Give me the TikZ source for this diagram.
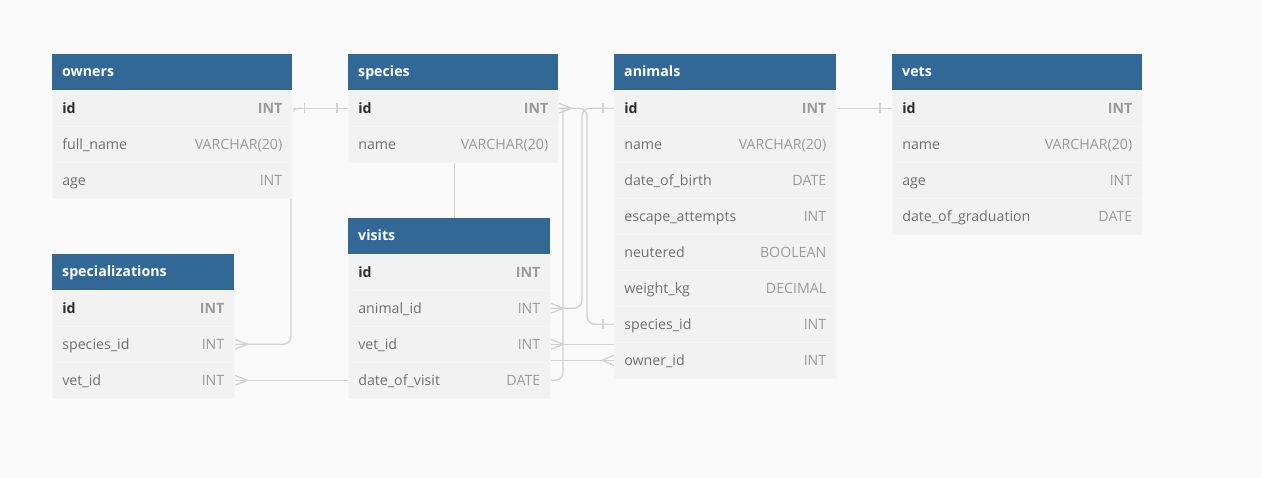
\documentclass[tikz,border=0pt]{standalone}
\usepackage{fontspec}
\setmainfont{Open Sans}
\usetikzlibrary{calc}
\pgfdeclarelayer{bg}
\pgfsetlayers{bg,main}
\definecolor{bgc}{HTML}{FAFAFA}
\definecolor{hdrc}{HTML}{316896}
\definecolor{rowc}{HTML}{F2F2F2}
\definecolor{sepc}{HTML}{F6F6F6}
\definecolor{namec}{HTML}{707070}
\definecolor{pkc}{HTML}{2E2E2E}
\definecolor{typec}{HTML}{9A9A9A}
\definecolor{connc}{HTML}{D2D2D2}
\newcommand\ftype[1]{\hfill\textcolor{typec}{#1}}
\newcommand\pkrow[2]{\textbf{\textcolor{pkc}{#1}}\hfill\textcolor{typec}{\textbf{#2}}}
\tikzset{
  hdr/.style={anchor=north west, fill=hdrc, text=white, font=\bfseries\fontsize{14.2}{16}\selectfont,
    inner xsep=10pt, inner ysep=0pt, minimum height=36pt, align=left, text height=11pt, text depth=2pt},
  erow/.style={anchor=north west, fill=rowc, draw=sepc, line width=0.6pt, inner xsep=10pt, inner ysep=0pt,
    minimum height=36pt, align=left, font=\fontsize{14.2}{16}\selectfont, text height=12pt, text depth=1pt, text=namec},
  conn/.style={draw=connc, line width=1.3pt},
  rconn/.style={conn, rounded corners=8pt},
}
\begin{document}
\begin{tikzpicture}[x=1pt,y=-1pt]
\useasboundingbox (0,0) rectangle (1262,478);

% owners
\node[hdr, text width=220pt] (owners-h) at (52,54) {owners};
\node[erow, text width=220pt] (owners-id) at (52,90) {\pkrow{id}{INT}};
\node[erow, text width=220pt] (owners-fn) at (52,126) {full\_name\ftype{VARCHAR(20)}};
\node[erow, text width=220pt] (owners-age) at (52,162) {age\ftype{INT}};

% species
\node[hdr, text width=190pt] (species-h) at (348,54) {species};
\node[erow, text width=190pt] (species-id) at (348,90) {\pkrow{id}{INT}};
\node[erow, text width=190pt] (species-name) at (348,126) {name\ftype{VARCHAR(20)}};

% animals
\node[hdr, text width=202pt] (animals-h) at (614,54) {animals};
\node[erow, text width=202pt] (animals-id) at (614,90) {\pkrow{id}{INT}};
\node[erow, text width=202pt] (animals-name) at (614,126) {name\ftype{VARCHAR(20)}};
\node[erow, text width=202pt] (animals-dob) at (614,162) {date\_of\_birth\ftype{DATE}};
\node[erow, text width=202pt] (animals-esc) at (614,198) {escape\_attempts\ftype{INT}};
\node[erow, text width=202pt] (animals-neu) at (614,234) {neutered\ftype{BOOLEAN}};
\node[erow, text width=202pt] (animals-wkg) at (614,270) {weight\_kg\ftype{DECIMAL}};
\node[erow, text width=202pt] (animals-sid) at (614,306) {species\_id\ftype{INT}};
\node[erow, text width=202pt] (animals-oid) at (614,342) {owner\_id\ftype{INT}};

% vets
\node[hdr, text width=230pt] (vets-h) at (892,54) {vets};
\node[erow, text width=230pt] (vets-id) at (892,90) {\pkrow{id}{INT}};
\node[erow, text width=230pt] (vets-name) at (892,126) {name\ftype{VARCHAR(20)}};
\node[erow, text width=230pt] (vets-age) at (892,162) {age\ftype{INT}};
\node[erow, text width=230pt] (vets-dog) at (892,198) {date\_of\_graduation\ftype{DATE}};

% specializations
\node[hdr, text width=162pt] (specs-h) at (52,254) {specializations};
\node[erow, text width=162pt] (specs-id) at (52,290) {\pkrow{id}{INT}};
\node[erow, text width=162pt] (specs-sid) at (52,326) {species\_id\ftype{INT}};
\node[erow, text width=162pt] (specs-vid) at (52,362) {vet\_id\ftype{INT}};

% visits
\node[hdr, text width=182pt] (visits-h) at (348,218) {visits};
\node[erow, text width=182pt] (visits-id) at (348,254) {\pkrow{id}{INT}};
\node[erow, text width=182pt] (visits-aid) at (348,290) {animal\_id\ftype{INT}};
\node[erow, text width=182pt] (visits-vid) at (348,326) {vet\_id\ftype{INT}};
\node[erow, text width=182pt] (visits-dov) at (348,362) {date\_of\_visit\ftype{DATE}};

\begin{pgfonlayer}{bg}
\fill[bgc] (0,0) rectangle (1262,478);
\coordinate (xA) at (582,0);
\coordinate (xB) at (587,0);
\coordinate (xC) at (563,0);
\coordinate (xI) at (291,0);

% owners.id -- species.id (one to one)
\draw[conn] (owners-id.east) -- (species-id.west);
\draw[conn] ([xshift=12pt,yshift=5pt]owners-id.east) -- ([xshift=12pt,yshift=-5pt]owners-id.east);
\draw[conn] ([xshift=-11pt,yshift=5pt]species-id.west) -- ([xshift=-11pt,yshift=-5pt]species-id.west);

% specializations.species_id -- owners.id
\draw[rconn] (specs-sid.east) -| (xI |- owners-id.east) -- ([xshift=10pt]owners-id.east);
\draw[conn] ([yshift=5pt]specs-sid.east) -- ([xshift=13pt]specs-sid.east) -- ([yshift=-5pt]specs-sid.east);

% specializations.vet_id -- visits.date_of_visit
\draw[conn] (specs-vid.east) -- (visits-dov.west);
\draw[conn] ([yshift=5pt]specs-vid.east) -- ([xshift=13pt]specs-vid.east) -- ([yshift=-5pt]specs-vid.east);

% species.name -- visits
\draw[conn] ([xshift=1pt]species-name.south) -- ([xshift=1pt]species-name.south |- visits-h.north);

% animals.id -- visits.animal_id
\draw[rconn] (animals-id.west) -| (xA |- visits-aid.east) -- (visits-aid.east);
\draw[conn] ([xshift=-11pt,yshift=5pt]animals-id.west) -- ([xshift=-11pt,yshift=-5pt]animals-id.west);
\draw[conn] ([yshift=5pt]visits-aid.east) -- ([xshift=13pt]visits-aid.east) -- ([yshift=-5pt]visits-aid.east);

% species.id -- animals.species_id
\draw[rconn] (species-id.east) -| (xB |- animals-sid.west) -- (animals-sid.west);
\draw[conn] ([yshift=5pt]species-id.east) -- ([xshift=13pt]species-id.east) -- ([yshift=-5pt]species-id.east);
\draw[conn] ([xshift=-11pt,yshift=5pt]animals-sid.west) -- ([xshift=-11pt,yshift=-5pt]animals-sid.west);

% visits.date_of_visit -- (x = 563) -- top line
\draw[rconn] (visits-dov.east) -| (xC |- species-id.east);

% visits.vet_id -- animals (edge)
\draw[conn] (visits-vid.east) -- (animals-oid.west |- visits-vid.east);
\draw[conn] ([yshift=5pt]visits-vid.east) -- ([xshift=13pt]visits-vid.east) -- ([yshift=-5pt]visits-vid.east);

% visits -- animals.owner_id
\draw[conn] (visits-vid.east |- animals-oid.west) -- (animals-oid.west);
\draw[conn] ([yshift=5pt]animals-oid.west) -- ([xshift=-12pt]animals-oid.west) -- ([yshift=-5pt]animals-oid.west);

% animals.id -- vets.id
\draw[conn] (animals-id.east) -- (vets-id.west);
\draw[conn] ([xshift=-12pt,yshift=5pt]vets-id.west) -- ([xshift=-12pt,yshift=-5pt]vets-id.west);
\end{pgfonlayer}

\end{tikzpicture}
\end{document}
